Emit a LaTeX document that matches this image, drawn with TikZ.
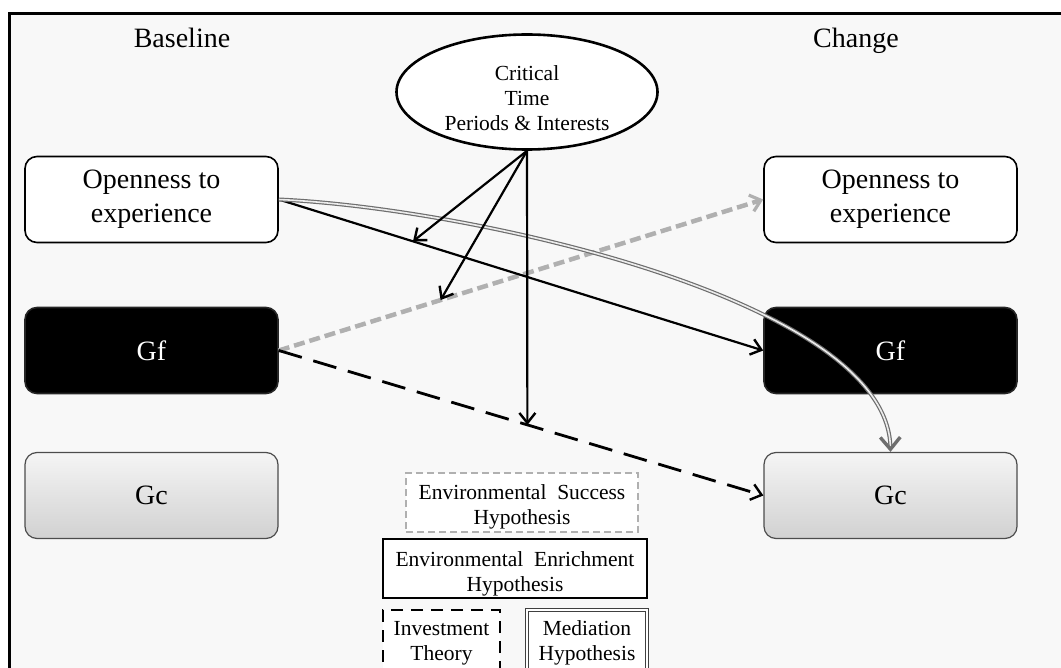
\documentclass[tikz,border=0pt]{standalone}
\usepackage{fontspec}
\setmainfont{Liberation Serif}
\usetikzlibrary{arrows.meta,shapes.geometric}
\definecolor{bgc}{HTML}{F8F8F8}
\definecolor{dashgray}{HTML}{B0B0B0}
\definecolor{curvegray}{HTML}{6E6E6E}
\newcommand{\bigtxt}{\fontsize{28}{34}\selectfont}
\newcommand{\smtxt}{\fontsize{21.5}{25}\selectfont}
\begin{document}
\begin{tikzpicture}[x=1pt,y=-1pt,
  varbox/.style={rounded corners=12pt, minimum width=253pt, minimum height=86pt, align=center, font=\bigtxt, line width=1.6pt},
  openbox/.style={varbox, draw=black, fill=white},
  gfbox/.style={varbox, draw=black!85, fill=black, text=white},
  gcbox/.style={varbox, draw=black!70, line width=1.2pt, top color=black!4, bottom color=black!18},
  barb/.style={line width=2.2pt, -{Straight Barb[length=10pt,width=16pt,line width=2.4pt]}},
  legtext/.style={font=\smtxt, align=center},
  hdr/.style={font=\bigtxt, anchor=base}
]
\useasboundingbox (0,0) rectangle (1061,668);
\clip (0,0) rectangle (1061,668);
\fill[white] (0,0) rectangle (1061,668);
\fill[bgc] (9,14) rectangle (1080,690);
\draw[line width=3pt] (9,14) rectangle (1080,690);

\node[hdr] (hb) at (182,48) {Baseline};
\node[hdr] (hc) at (856,48) {Change};

% variable boxes
\node[openbox] (o1) at (151.5,199.5) {Openness to\\experience};
\node[gfbox] (gf1) at (151.5,350.5) {Gf};
\node[gcbox] (gc1) at (151.5,495.5) {Gc};
\node[openbox] (o2) at (890.5,199.5) {Openness to\\experience};
\node[gfbox] (gf2) at (890.5,350.5) {Gf};
\node[gcbox] (gc2) at (890.5,495.5) {Gc};

% connectors
\draw[draw=dashgray, line width=4.5pt, dash pattern=on 11pt off 5pt,
  -{Straight Barb[length=10pt,width=17pt,line width=3.2pt]}]
  (gf1.east) -- coordinate[pos=0.334] (m2) (o2.west);
\draw[barb] (o1.east) -- coordinate[pos=0.277] (m1) (gf2.west);
\draw[barb, line width=2.8pt, dash pattern=on 24pt off 12pt]
  (gf1.east) -- coordinate[pos=0.513] (m3) (gc2.west);
\draw[draw=curvegray, double=white!85!gray, line width=1.2pt, double distance=1.6pt,
  -{Straight Barb[length=12pt,width=20pt,line width=3.4pt]}]
  (o1.east) .. controls (470,208) and (888,300) .. (gc2.north);

% moderator
\node[ellipse, draw, line width=2.6pt, fill=white, minimum width=261pt, minimum height=115pt,
  label={[legtext, yshift=-6pt]center:Critical\\Time\\Periods \& Interests}] (ctp) at (527,92) {};
\draw[barb] (ctp.south) -- (m1);
\draw[barb] (ctp.south) -- (m2);
\draw[barb] (ctp.south) -- (m3);

% legend
\node[draw=dashgray, dash pattern=on 7pt off 4pt, line width=1.8pt, fill=white,
  minimum width=232pt, minimum height=59pt,
  label={[legtext, yshift=-4pt]center:Environmental\hspace{0.5em}Success\\Hypothesis}] (esh) at (522,502.5) {};
\node[draw, line width=2.5pt, fill=white, minimum width=264pt, minimum height=59pt,
  label={[legtext, yshift=-5pt]center:Environmental\hspace{0.5em}Enrichment\\Hypothesis}] (eeh) at (515,568.5) {};
\node[draw, line width=2.8pt, dash pattern=on 12pt off 8pt, fill=white,
  minimum width=117pt, minimum height=66pt,
  label={[legtext]center:Investment\\Theory}] (inv) at (441.5,643) {};
\node[draw=black!75, double=white, line width=0.9pt, double distance=2pt, fill=white,
  minimum width=120pt, minimum height=66pt,
  label={[legtext]center:Mediation\\Hypothesis}] (med) at (587,643) {};
\end{tikzpicture}
\end{document}
